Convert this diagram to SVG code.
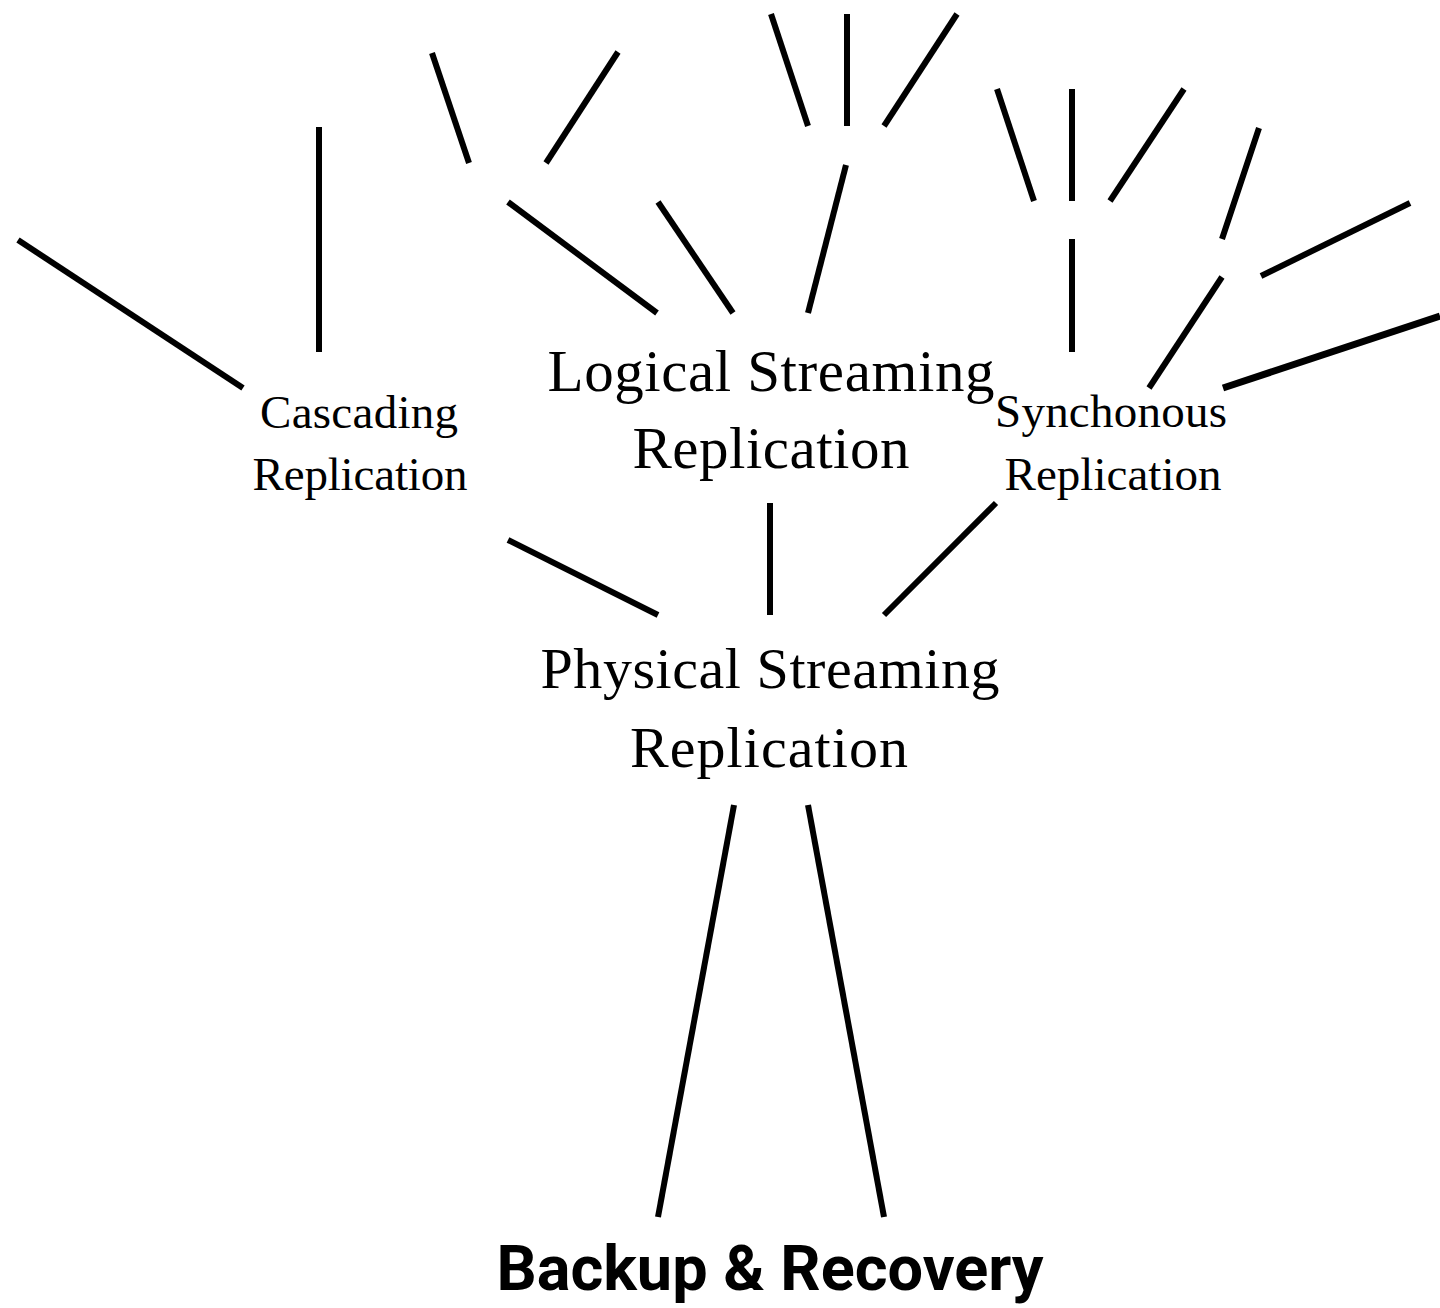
<svg xmlns="http://www.w3.org/2000/svg" width="1440" height="1308" viewBox="0 0 1440 1308">
  <style>
    .bg { fill: #ffffff; }
    .edge { stroke: #000000; stroke-width: 6; stroke-linecap: butt; fill: none; }
    .edge.heavy { stroke-width: 7; }
    .label { font-family: "Liberation Serif", "DejaVu Serif", serif; fill: #000000; text-anchor: middle; }
    .small { font-size: 47px; }
    .large { font-size: 59px; }
    .root { font-family: Roboto, "Liberation Sans", sans-serif; font-weight: 700; font-size: 63px; fill: #000000; text-anchor: middle; }
  </style>
  <rect class="bg" x="0" y="0" width="1440" height="1308"/>

  <!-- connectors -->
  <g id="connectors">
    <!-- around Cascading Replication -->
    <line class="edge" x1="18" y1="240" x2="243" y2="388"/>
    <line class="edge" x1="319" y1="127" x2="319" y2="352"/>
    <!-- upper left fan -->
    <line class="edge" x1="432" y1="53" x2="469" y2="163"/>
    <line class="edge" x1="618" y1="52" x2="546" y2="163"/>
    <!-- into Logical Streaming Replication -->
    <line class="edge" x1="508" y1="202" x2="657" y2="313"/>
    <line class="edge" x1="658" y1="202" x2="733" y2="313"/>
    <line class="edge" x1="846" y1="165" x2="808" y2="313"/>
    <!-- top centre fan -->
    <line class="edge" x1="771" y1="14" x2="808" y2="126"/>
    <line class="edge" x1="847" y1="14" x2="847" y2="126"/>
    <line class="edge" x1="957" y1="14" x2="884" y2="126"/>
    <!-- upper right fan -->
    <line class="edge" x1="997" y1="89" x2="1034" y2="201"/>
    <line class="edge" x1="1072" y1="89" x2="1072" y2="201"/>
    <line class="edge" x1="1184" y1="89" x2="1110" y2="201"/>
    <line class="edge" x1="1259" y1="128" x2="1222" y2="239"/>
    <!-- into Synchonous Replication -->
    <line class="edge" x1="1072" y1="239" x2="1072" y2="352"/>
    <line class="edge" x1="1410" y1="203" x2="1261" y2="276"/>
    <line class="edge" x1="1222" y1="277" x2="1149" y2="388"/>
    <line class="edge heavy" x1="1440" y1="316" x2="1223" y2="388"/>
    <!-- into Physical Streaming Replication -->
    <line class="edge" x1="508" y1="540" x2="658" y2="615"/>
    <line class="edge" x1="770" y1="503" x2="770" y2="615"/>
    <line class="edge" x1="996" y1="503" x2="884" y2="615"/>
    <!-- down to Backup & Recovery -->
    <line class="edge" x1="734" y1="805" x2="658" y2="1217"/>
    <line class="edge" x1="808" y1="805" x2="884" y2="1217"/>
  </g>

  <!-- nodes -->
  <g id="node-cascading">
    <text class="label small" x="359" y="428" textLength="198">Cascading</text>
    <text class="label small" x="360" y="490" textLength="215">Replication</text>
  </g>
  <g id="node-logical">
    <text class="label large" x="771" y="391" textLength="447">Logical Streaming</text>
    <text class="label large" x="771" y="468" textLength="277">Replication</text>
  </g>
  <g id="node-synchonous">
    <text class="label small" x="1111" y="427" textLength="232">Synchonous</text>
    <text class="label small" x="1113" y="490" textLength="217">Replication</text>
  </g>
  <g id="node-physical">
    <text class="label large" x="770" y="688" textLength="459" style="font-size:58px">Physical Streaming</text>
    <text class="label large" x="769" y="767" textLength="278" style="font-size:58px">Replication</text>
  </g>
  <g id="node-backup">
    <text class="root" x="770" y="1290">Backup &amp; Recovery</text>
  </g>
</svg>
